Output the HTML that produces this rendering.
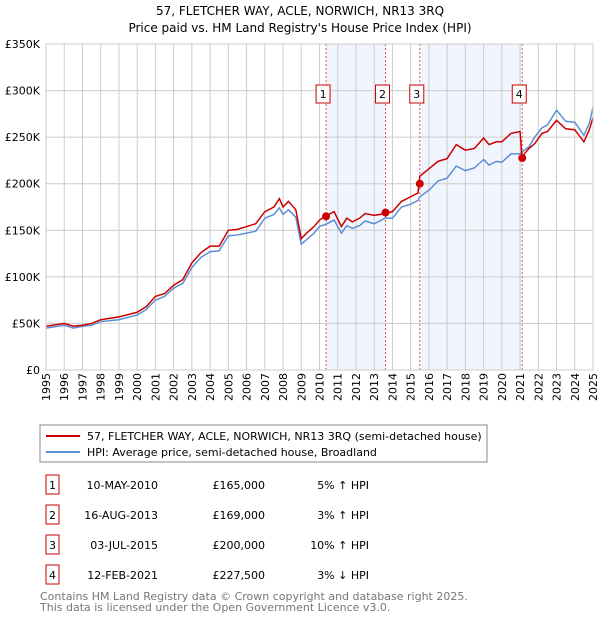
<!DOCTYPE html>
<html><head><meta charset="utf-8"><style>
body{margin:0;background:#fff;font-family:"Liberation Sans","DejaVu Sans",sans-serif;}
svg text{font-family:"DejaVu Sans","Liberation Sans",sans-serif;}
</style></head><body>
<svg width="600" height="620" id="c">
<text x="300" y="15" text-anchor="middle" font-size="12">57, FLETCHER WAY, ACLE, NORWICH, NR13 3RQ</text>
<text x="300" y="32" text-anchor="middle" font-size="12">Price paid vs. HM Land Registry's House Price Index (HPI)</text>
<g id="plot"></g>
<rect x="40" y="425" width="447" height="37" fill="#fff" stroke="#888"/>
<line x1="46" y1="436" x2="80" y2="436" stroke="#cc0000" stroke-width="2"/>
<text x="87" y="440" font-size="11">57, FLETCHER WAY, ACLE, NORWICH, NR13 3RQ (semi-detached house)</text>
<line x1="46" y1="452" x2="80" y2="452" stroke="#5b8fd4" stroke-width="2"/>
<text x="87" y="456" font-size="11">HPI: Average price, semi-detached house, Broadland</text>
<g id="tbl"></g>
<text x="40" y="600" font-size="11" fill="#777">Contains HM Land Registry data © Crown copyright and database right 2025.</text>
<text x="40" y="611" font-size="11" fill="#777">This data is licensed under the Open Government Licence v3.0.</text>
</svg>
<script>
const years=[1995,1996,1996.5,1997,1997.5,1998,1999,2000,2000.5,2001,2001.5,2002,2002.5,2003,2003.5,2004,2004.5,2005,2005.5,2006,2006.5,2007,2007.5,2007.8,2008,2008.3,2008.7,2009,2009.3,2009.7,2010,2010.4,2010.8,2011.2,2011.5,2011.8,2012.2,2012.5,2013,2013.6,2014,2014.5,2015,2015.4,2015.5,2016,2016.5,2017,2017.5,2018,2018.5,2019,2019.3,2019.7,2020,2020.5,2021,2021.1,2021.5,2021.8,2022.2,2022.5,2023,2023.5,2024,2024.5,2024.8,2025];
const redVals=[47,50,47,48,50,54,57,62,68,79,82,91,97,115,126,133,133,150,151,154,157,170,175,184,175,181,172,141,147,154,161,166,170,154,163,159,163,168,166,168,170,181,186,190,208,216,224,227,242,236,238,249,242,245,245,254,256,229,238,243,254,256,268,259,258,245,258,271];
const hpiVals=[45,48,45,47,48,52,54,59,65,75,79,88,93,110,121,127,128,144,145,147,149,163,167,174,167,172,164,135,140,147,154,157,161,147,155,152,155,160,157,163,163,175,178,182,186,193,203,206,219,214,217,226,220,224,223,232,232,234,240,250,260,263,279,267,266,252,265,282];
const sales=[["1","10-MAY-2010","£165,000","5% ↑ HPI",2010.36,165],["2","16-AUG-2013","£169,000","3% ↑ HPI",2013.62,169],["3","03-JUL-2015","£200,000","10% ↑ HPI",2015.5,200],["4","12-FEB-2021","£227,500","3% ↓ HPI",2021.12,227.5]];
const yTicks=[0,50,100,150,200,250,300,350];
const ns="http://www.w3.org/2000/svg";
const X=v=>46+(v-1995)*(593-46)/30, Y=v=>370-v*326/350;
const plot=document.getElementById('plot');
function mk(t,a,p){const e=document.createElementNS(ns,t);for(const k in a)e.setAttribute(k,a[k]);(p||plot).appendChild(e);return e;}
let e;
e=mk('rect',{x:X(sales[0][4]),y:44,width:X(sales[1][4])-X(sales[0][4]),height:326,fill:'#eef3fc',opacity:0.8});


e=mk('rect',{x:X(sales[2][4]),y:44,width:X(sales[3][4])-X(sales[2][4]),height:326,fill:'#eef3fc',opacity:0.8});


for(let y=1995;y<=2025;y++){
 e=mk('line',{x1:X(y),x2:X(y),y1:44,y2:370,stroke:'#ccc','stroke-width':1});
 
 
 e=mk('text',{transform:`translate(${X(y)+4},${373}) rotate(-90)`,'text-anchor':'end','font-size':11});
 e.textContent=y;
 
 
}
yTicks.forEach(v=>{
 e=mk('line',{x1:46,x2:593,y1:Y(v),y2:Y(v),stroke:'#ccc','stroke-width':1});
 
 
 e=mk('text',{x:40,y:Y(v)+4,'text-anchor':'end','font-size':11});
 e.textContent=v?'£'+v+'K':'£0';
 
 
});
sales.forEach(s=>{
 e=mk('line',{x1:X(s[4]),x2:X(s[4]),y1:44,y2:370,stroke:'#e55','stroke-width':1,'stroke-dasharray':'2,2'});
 
 
});
e=mk('polyline',{points:years.map((y,i)=>X(y)+','+Y(hpiVals[i])).join(' '),fill:'none',stroke:'#5b8fd4','stroke-width':1.5});


e=mk('polyline',{points:years.map((y,i)=>X(y)+','+Y(redVals[i])).join(' '),fill:'none',stroke:'#cc0000','stroke-width':1.5});


const tbl=document.getElementById('tbl');
sales.forEach((s,i)=>{
 e=mk('circle',{cx:X(s[4]),cy:Y(s[5]),r:4,fill:'#cc0000'});
 
 
 const bx=X(s[4])-10;
 e=mk('rect',{x:bx,y:85,width:14,height:18,fill:'#fff',stroke:'#cc0000'});
 
 
 e=mk('text',{x:bx+7,y:98,'text-anchor':'middle','font-size':11});
 e.textContent=s[0];
 
 
 const ry=475+i*30;
 e=mk('rect',{x:46,y:ry,width:13,height:19,fill:'#fff',stroke:'#cc0000'},tbl);
 
 
 e=mk('text',{x:52.5,y:ry+14,'text-anchor':'middle','font-size':11},tbl);
 e.textContent=s[0];
 
 
 [[s[1],158],[s[2],265],[s[3],369]].forEach((c,j)=>{
  e=mk('text',{x:c[1],y:ry+14,'text-anchor':'end','font-size':11},tbl);
  e.textContent=c[0];
  
  
 });
});
e=mk('rect',{x:46,y:44,width:547,height:326,fill:'none',stroke:'#ccc'});


</script>
</body></html>
